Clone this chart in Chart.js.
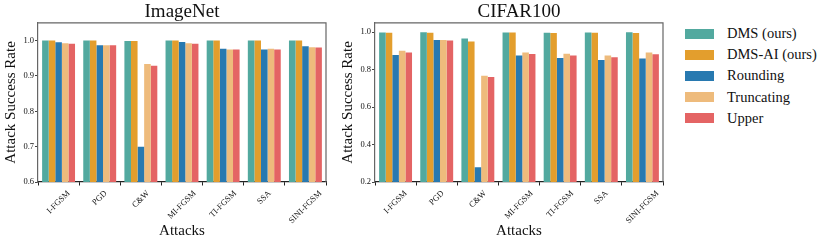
<!DOCTYPE html>
<html>
<head>
<meta charset="utf-8">
<script src="https://cdn.jsdelivr.net/npm/chart.js@4.4.1/dist/chart.umd.min.js"></script>
<style>
  body { margin: 0; background: #fff; width: 830px; height: 246px; position: relative; overflow: hidden; }
  .wrap { position: absolute; top: 0; width: 340px; height: 246px; }
  #legend { position: absolute; left: 685px; top: 23px; font-family: "Liberation Serif", "Times New Roman", serif; font-size: 14.5px; color: #111; }
  .item { height: 21.2px; display: flex; align-items: center; }
  .sw { width: 29px; height: 10px; margin-right: 13px; }
</style>
</head>
<body>
<div class="wrap" style="left:0px"><canvas id="imagenetChart"></canvas></div>
<div class="wrap" style="left:337px"><canvas id="cifarChart"></canvas></div>
<div id="legend"></div>

<script>
const attacks = ['I-FGSM', 'PGD', 'C&W', 'MI-FGSM', 'TI-FGSM', 'SSA', 'SINI-FGSM'];
const methods = ['DMS (ours)', 'DMS-AI (ours)', 'Rounding', 'Truncating', 'Upper'];
const colors = ['#52a99f', '#e39e2d', '#2879b0', '#eebb7c', '#e46464'];

// ImageNet
const imagenetDMS        = [1.000, 1.000, 0.999, 1.000, 1.000, 1.000, 1.000];
const imagenetDMSAI      = [1.000, 1.000, 0.999, 1.000, 1.000, 1.000, 1.000];
const imagenetRounding   = [0.995, 0.987, 0.700, 0.996, 0.977, 0.975, 0.984];
const imagenetTruncating = [0.992, 0.987, 0.934, 0.992, 0.975, 0.977, 0.981];
const imagenetUpper      = [0.991, 0.987, 0.929, 0.991, 0.975, 0.975, 0.980];
const imagenetTicks      = [0.6, 0.7, 0.8, 0.9, 1.0];

// CIFAR100
const cifarDMS        = [0.998, 1.000, 0.966, 0.998, 0.997, 0.999, 1.000];
const cifarDMSAI      = [0.997, 0.997, 0.951, 0.998, 0.996, 0.997, 0.996];
const cifarRounding   = [0.878, 0.958, 0.279, 0.876, 0.862, 0.852, 0.860];
const cifarTruncating = [0.901, 0.959, 0.768, 0.892, 0.885, 0.876, 0.891];
const cifarUpper      = [0.892, 0.956, 0.761, 0.884, 0.875, 0.866, 0.882];
const cifarTicks      = [0.2, 0.4, 0.6, 0.8, 1.0];

const serif = '"Liberation Serif", "Times New Roman", serif';

// matplotlib-style rotated tick labels + top/right spines
const framePlugin = {
    id: 'frame',
    afterDraw(chart) {
        const { ctx, chartArea: a, scales } = chart;
        ctx.save();
        ctx.strokeStyle = '#666';
        ctx.lineWidth = 1.2;
        ctx.beginPath();
        ctx.moveTo(a.left, a.top);
        ctx.lineTo(a.right, a.top);
        ctx.lineTo(a.right, a.bottom);
        ctx.stroke();

        ctx.font = '8.5px ' + serif;
        ctx.fillStyle = '#111';
        ctx.textAlign = 'center';
        ctx.textBaseline = 'middle';
        attacks.forEach((lab, i) => {
            const x = scales.x.getPixelForTick(i);
            const w = ctx.measureText(lab).width;
            const h = 8.5;
            const half = (w + h) * Math.SQRT1_2 / 2;
            ctx.save();
            ctx.translate(x, a.bottom + 7 + half);
            ctx.rotate(-Math.PI / 4);
            ctx.fillText(lab, 0, 0);
            ctx.restore();
        });
        ctx.restore();
    }
};

function makeChart(canvasId, title, series, yMin, yStep, yTicks) {
    const ctx = document.getElementById(canvasId).getContext('2d');
    return new Chart(ctx, {
        type: 'bar',
        data: {
            labels: attacks,
            datasets: series.map((vals, k) => ({
                label: methods[k],
                data: vals,
                backgroundColor: colors[k],
                borderWidth: 0,
                categoryPercentage: 0.8,
                barPercentage: 1.0
            }))
        },
        options: {
            responsive: true,
            maintainAspectRatio: false,
            animation: false,
            layout: { padding: { left: 0, right: 14, top: 0, bottom: 0 } },
            plugins: {
                legend: { display: false },
                tooltip: { enabled: false },
                title: {
                    display: true,
                    fullSize: false,
                    text: title,
                    color: '#111',
                    font: { family: serif, size: 19, weight: 'normal', lineHeight: 1.15 },
                    padding: { top: 1, bottom: 0 }
                }
            },
            scales: {
                x: {
                    grid: { drawOnChartArea: false, drawTicks: true, tickLength: 3.5, color: '#222' },
                    border: { color: '#222', width: 1.2 },
                    ticks: { display: false },
                    title: {
                        display: true,
                        text: 'Attacks',
                        color: '#111',
                        font: { family: serif, size: 15, lineHeight: 1.2 },
                        padding: { top: 0, bottom: 6 }
                    },
                    afterFit(scale) { scale.height = 64; }
                },
                y: {
                    min: yMin,
                    max: 1.05,
                    grid: { drawOnChartArea: false, drawTicks: true, tickLength: 3, color: '#444' },
                    border: { color: '#666', width: 1.2 },
                    ticks: {
                        stepSize: yStep,
                        includeBounds: false,
                        padding: 1,
                        color: '#111',
                        font: { family: serif, size: 8.5 },
                        callback: v => yTicks.some(t => Math.abs(t - v) < 1e-6) ? v.toFixed(1) : ''
                    },
                    title: {
                        display: true,
                        text: 'Attack Success Rate',
                        color: '#111',
                        font: { family: serif, size: 15, lineHeight: 1.2 },
                        padding: { top: 2, bottom: 0 }
                    },
                    afterFit(scale) { scale.width = 38; }
                }
            }
        },
        plugins: [framePlugin]
    });
}

makeChart('imagenetChart', 'ImageNet',
    [imagenetDMS, imagenetDMSAI, imagenetRounding, imagenetTruncating, imagenetUpper], 0.6, 0.1, imagenetTicks);
makeChart('cifarChart', 'CIFAR100',
    [cifarDMS, cifarDMSAI, cifarRounding, cifarTruncating, cifarUpper], 0.2, 0.2, cifarTicks);

// legend
const legend = document.getElementById('legend');
methods.forEach((m, k) => {
    const row = document.createElement('div');
    row.className = 'item';
    row.innerHTML = `<span class="sw" style="background:${colors[k]}"></span><span>${m}</span>`;
    legend.appendChild(row);
});
</script>
</body>
</html>
